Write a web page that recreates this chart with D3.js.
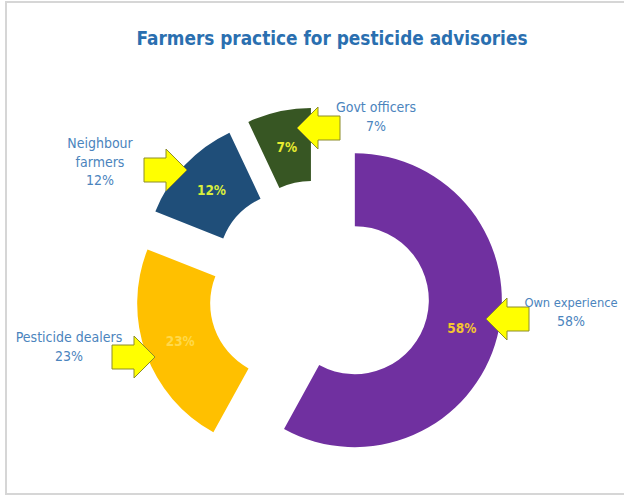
<!DOCTYPE html>
<html>
<head>
<meta charset="utf-8">
<script src="https://cdn.jsdelivr.net/npm/d3@7"></script>
<style>
  html, body { margin: 0; padding: 0; background: #fff; }
  svg { display: block; }
  text { font-family: "Liberation Sans Narrow", "DejaVu Sans Condensed", "Roboto", sans-serif; }
</style>
</head>
<body>
<svg id="chart" width="624" height="495"></svg>
<script>
// Survey shares: where farmers get pesticide advice
const categories = ["Own experience", "Pesticide dealers", "Neighbour farmers", "Govt officers"];
const shares = [58, 23, 12, 7];
const sliceColors = ["#7030a0", "#ffc000", "#1f4e79", "#375623"];
const valueLabelColors = ["#f4c430", "#ffd94a", "#d9ef3c", "#e8ec30"];
const outerLabelLines = [
  ["Own experience", "58%"],
  ["Pesticide dealers", "23%"],
  ["Neighbour", "farmers", "12%"],
  ["Govt officers", "7%"]
];
const titleText = "Farmers practice for pesticide advisories";

const W = 624, H = 495;
const cx = 319, cy = 291;
const outerR = 147, innerR = 74, explode = 37;

const svg = d3.select("#chart");

// frame
svg.append("rect")
  .attr("x", 6).attr("y", 2).attr("width", W + 4).attr("height", H - 3)
  .attr("fill", "#fff").attr("stroke", "#d6d6d6").attr("stroke-width", 2);

svg.append("text")
  .attr("x", 332).attr("y", 45)
  .attr("text-anchor", "middle")
  .attr("font-size", 20).attr("font-weight", "bold")
  .attr("fill", "#2a6fb0")
  .attr("textLength", 391).attr("lengthAdjust", "spacingAndGlyphs")
  .text(titleText);

const data = categories.map((c, i) => ({ name: c, value: shares[i], i }));
const pie = d3.pie().value(d => d.value).sort(null).startAngle(0).endAngle(2 * Math.PI);
const arcs = pie(data);
const arc = d3.arc().innerRadius(innerR).outerRadius(outerR);

const g = svg.append("g").attr("transform", `translate(${cx},${cy})`);

// each slice is pushed outward along its middle angle
function offset(a) {
  const m = (a.startAngle + a.endAngle) / 2;
  return [Math.sin(m) * explode, -Math.cos(m) * explode];
}

const slices = g.selectAll("g.slice").data(arcs).join("g")
  .attr("class", "slice")
  .attr("transform", d => { const o = offset(d); return `translate(${o[0]},${o[1]})`; });

slices.append("path")
  .attr("d", arc)
  .attr("fill", d => sliceColors[d.data.i]);

slices.append("text")
  .attr("transform", d => { const c = arc.centroid(d); return `translate(${c[0]},${c[1] + 5})`; })
  .attr("text-anchor", "middle")
  .attr("font-size", 13.5).attr("font-weight", "bold")
  .attr("fill", d => valueLabelColors[d.data.i])
  .text(d => d.data.value + "%");

// callout arrows (tip position, direction) and their label blocks
const arrowSpecs = [
  { tip: [486, 319], dir: -1 },
  { tip: [155, 357], dir: 1 },
  { tip: [187, 170], dir: 1 },
  { tip: [297, 128], dir: -1 }
];
const labelSpecs = [
  { x: 571, y: 307, size: 12.8 },
  { x: 69, y: 342, size: 14 },
  { x: 100, y: 148, size: 14 },
  { x: 376, y: 112, size: 14 }
];

function arrowPath(tx, ty, dir) {
  const head = 21, body = 22, hh = 21, bh = 12;
  const hx = tx - dir * head, ex = tx - dir * (head + body);
  return `M${tx},${ty} L${hx},${ty - hh} L${hx},${ty - bh} L${ex},${ty - bh} ` +
         `L${ex},${ty + bh} L${hx},${ty + bh} L${hx},${ty + hh} Z`;
}

svg.append("g").selectAll("path").data(arrowSpecs).join("path")
  .attr("d", d => arrowPath(d.tip[0], d.tip[1], d.dir))
  .attr("fill", "#ffff00")
  .attr("stroke", "#8c8c2a").attr("stroke-width", 1);

const lbl = svg.append("g").selectAll("g").data(arcs).join("g");
lbl.each(function(d) {
  const s = labelSpecs[d.data.i];
  d3.select(this).selectAll("text").data(outerLabelLines[d.data.i]).join("text")
    .attr("text-anchor", "middle")
    .attr("font-size", (t, k) => k === 0 ? s.size : 14)
    .attr("fill", "#4b84bd")
    .attr("x", s.x)
    .attr("y", (t, k) => s.y + k * 18.5)
    .text(t => t);
});
</script>
</body>
</html>
